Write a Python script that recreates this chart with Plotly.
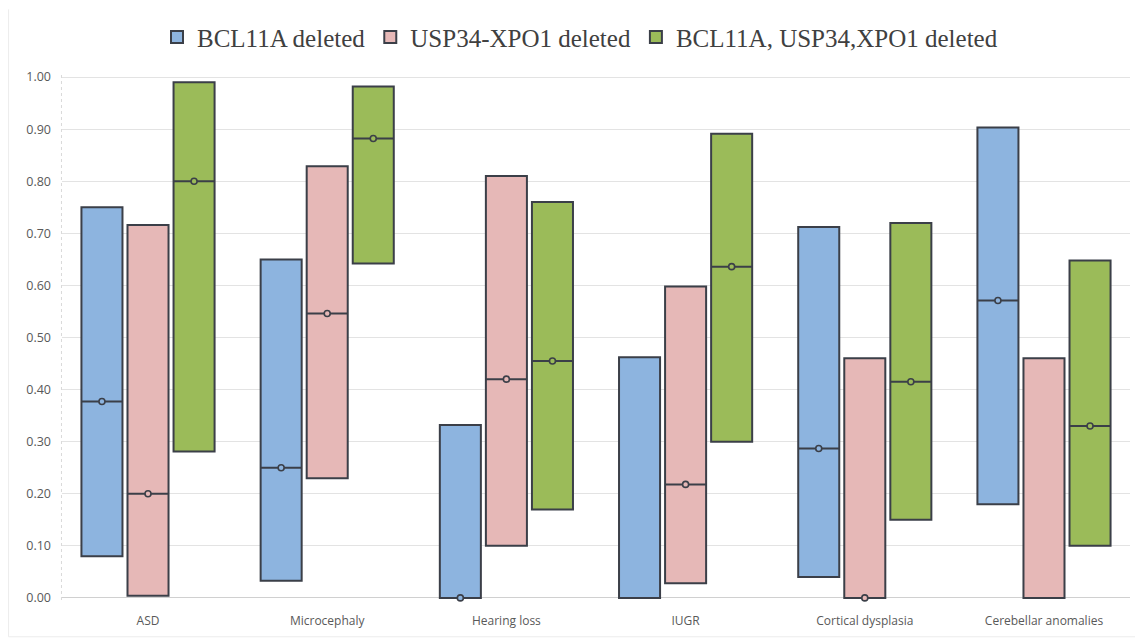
import plotly.graph_objects as go

categories = ["ASD", "Microcephaly", "Hearing loss", "IUGR", "Cortical dysplasia", "Cerebellar anomalies"]
series_names = ["BCL11A deleted", "USP34-XPO1 deleted", "BCL11A, USP34,XPO1 deleted"]

bcl11a_low = [0.08, 0.033, 0.00, 0.00, 0.04, 0.18]
bcl11a_high = [0.75, 0.65, 0.332, 0.462, 0.712, 0.903]
bcl11a_mid = [0.377, 0.25, 0.00, None, 0.287, 0.571]

usp34_low = [0.004, 0.23, 0.10, 0.028, 0.00, 0.00]
usp34_high = [0.716, 0.829, 0.81, 0.598, 0.46, 0.46]
usp34_mid = [0.20, 0.546, 0.42, 0.218, 0.00, None]

triple_low = [0.281, 0.642, 0.17, 0.30, 0.15, 0.10]
triple_high = [0.99, 0.982, 0.76, 0.891, 0.72, 0.648]
triple_mid = [0.80, 0.882, 0.455, 0.636, 0.415, 0.33]

colors = ["#8db4df", "#e6b8b7", "#9bbb59"]
edge = "#3b3f48"

groups = [
    (bcl11a_low, bcl11a_high, bcl11a_mid),
    (usp34_low, usp34_high, usp34_mid),
    (triple_low, triple_high, triple_mid),
]

bar_w = 0.229
step = 0.257
offsets = [-step, 0.0, step]
xs = list(range(len(categories)))

fig = go.Figure()

for (low, high, mid), name, color, off in zip(groups, series_names, colors, offsets):
    fig.add_trace(go.Bar(
        x=[x + off for x in xs],
        y=[h - l for h, l in zip(high, low)],
        base=low,
        width=bar_w,
        name=name,
        marker=dict(color=color, line=dict(color=edge, width=2)),
        hoverinfo="skip",
    ))

for (low, high, mid), color, off in zip(groups, colors, offsets):
    lx, ly, mx, my = [], [], [], []
    for x, m in zip(xs, mid):
        if m is None:
            continue
        c = x + off
        lx += [c - bar_w / 2, c + bar_w / 2, None]
        ly += [m, m, None]
        mx.append(c)
        my.append(m)
    fig.add_trace(go.Scatter(
        x=lx, y=ly, mode="lines", line=dict(color=edge, width=2),
        showlegend=False, hoverinfo="skip", cliponaxis=False,
    ))
    fig.add_trace(go.Scatter(
        x=mx, y=my, mode="markers",
        marker=dict(symbol="circle", size=6, color=color, line=dict(color=edge, width=1.6)),
        showlegend=False, hoverinfo="skip", cliponaxis=False,
    ))

# frame lines and dotted value axis
fig.add_shape(type="line", xref="paper", yref="paper", x0=-0.0005, x1=-0.0005, y0=0, y1=1,
              line=dict(color="#d9d9d9", width=1, dash="dot"), layer="below")
fig.add_shape(type="line", xref="paper", yref="paper", x0=-0.05, x1=-0.05, y0=-0.07, y1=1.125,
              line=dict(color="#ececec", width=1))
fig.add_shape(type="line", xref="paper", yref="paper", x0=-0.05, x1=1.01, y0=-0.07, y1=-0.07,
              line=dict(color="#ececec", width=1))

fig.update_layout(
    width=1135, height=639,
    margin=dict(l=62, r=5, t=75, b=39),
    paper_bgcolor="white", plot_bgcolor="white",
    barmode="overlay",
    showlegend=True,
    legend=dict(
        orientation="h", x=0.485, xanchor="center", y=1.072, yanchor="middle",
        font=dict(family="Liberation Serif", size=25, color="#404040"),
        itemsizing="constant", traceorder="normal", itemwidth=30,
        bgcolor="rgba(0,0,0,0)",
    ),
    xaxis=dict(
        range=[-0.48, 5.48], tickvals=xs, ticktext=categories,
        showgrid=False, zeroline=False, showline=False, ticks="",
        tickfont=dict(family="Open Sans", size=12, color="#595959"),
        ticklabelstandoff=12,
    ),
    yaxis=dict(
        range=[-0.004, 1.004], tickvals=[i / 10 for i in range(11)], tickformat=".2f",
        showgrid=True, gridcolor="#e3e3e3", gridwidth=1, zeroline=True,
        zerolinecolor="#d0d0d0", zerolinewidth=1, showline=False, ticks="",
        tickfont=dict(family="Open Sans", size=12.5, color="#595959"),
        ticklabelstandoff=10,
    ),
)

fig.write_html("out.html")
